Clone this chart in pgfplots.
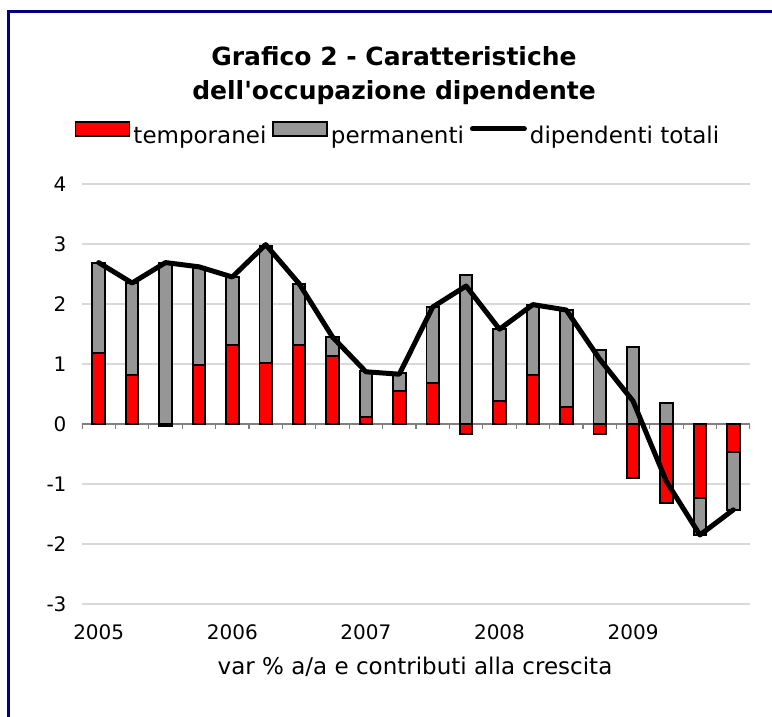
\documentclass[border=0pt]{standalone}
\usepackage{pgfplots}
\pgfplotsset{compat=1.18}
\usepackage{pgfplotstable}
\usepackage{fontspec}
\setmainfont{DejaVu Sans}
\definecolor{barred}{RGB}{255,0,0}
\definecolor{bargray}{RGB}{150,150,150}
\definecolor{gridgray}{RGB}{217,217,217}
\definecolor{axisgray}{RGB}{128,128,128}
\definecolor{framenavy}{RGB}{0,0,128}

% x: quarter index (0 = 2005 Q1); temp: contribution of temporary workers;
% graytop: visible end of the grey (permanent) segment; tot: total employees
\pgfplotstableread{
x  temp   graytop  tot
0   1.18   2.69    2.69
1   0.81   2.35    2.35
2  -0.03   2.69    2.69
3   0.98   2.62    2.62
4   1.32   2.45    2.45
5   1.02   2.97    2.99
6   1.32   2.34    2.34
7   1.14   1.45    1.45
8   0.11   0.88    0.87
9   0.55   0.85    0.83
10  0.68   1.95    1.95
11 -0.16   2.48    2.30
12  0.38   1.58    1.58
13  0.81   1.99    1.99
14  0.28   1.90    1.90
15 -0.16   1.24    1.08
16 -0.90   1.28    0.38
17 -1.31   0.35   -0.96
18 -1.24  -1.85   -1.85
19 -0.47  -1.43   -1.43
}\data

\begin{document}
\begin{tikzpicture}[x=1pt,y=1pt]
\useasboundingbox (0,0) rectangle (772,717);
\draw[framenavy, line width=3pt] (8.5,-5) -- (8.5,705.5) -- (780,705.5);

\node[anchor=base, font=\fontsize{25}{30}\selectfont\bfseries] at (394,651) {Grafico 2 - Caratteristiche};
\node[anchor=base, font=\fontsize{25}{30}\selectfont\bfseries] at (394,617) {dell\textquotesingle occupazione dipendente};
\node[anchor=base, font=\fontsize{23}{27}\selectfont] at (415,42) {var \% a/a e contributi alla crescita};

\begin{axis}[
  at={(82pt,113pt)}, anchor=south west,
  scale only axis, width=668pt, height=420pt,
  xmin=-0.5, xmax=19.5, ymin=-3, ymax=4,
  ytick={-3,-2,-1,0,1,2,3,4},
  yticklabels={-3,-2,-1,0,1,2,3,4},
  xtick={0,4,8,12,16},
  xticklabels={2005,2006,2007,2008,2009},
  major tick length=0pt,
  axis line style={draw=none},
  ymajorgrids,
  grid style={gridgray, line width=1.5pt},
  tick label style={font=\fontsize{20}{24}\selectfont},
  yticklabel style={anchor=east, xshift=-12pt},
  xticklabel style={anchor=base, yshift=-36pt},
  legend columns=3,
  legend style={draw=none, fill=none,
    at={(axis description cs:0.474,1.117)}, anchor=center,
    font=\fontsize{23}{27}\selectfont,
    nodes={inner sep=3pt},
    /tikz/every even column/.append style={column sep=3pt}},
]
\addlegendimage{legend image code/.code={\draw[fill=barred, draw=black, line width=1.5pt] (0pt,0pt) rectangle (54pt,14pt);}}
\addlegendentry{temporanei}
\addlegendimage{legend image code/.code={\draw[fill=bargray, draw=black, line width=1.5pt] (0pt,0pt) rectangle (54pt,14pt);}}
\addlegendentry{permanenti}
\addlegendimage{legend image code/.code={\draw[black, line width=5pt, line cap=round] (3pt,7pt) -- (55pt,7pt);}}
\addlegendentry{dipendenti totali}

\draw[axisgray, line width=1.5pt] (axis cs:-0.5,0) -- (axis cs:19.5,0);
\pgfplotsinvokeforeach{-0.5,0.5,...,19.5}{\draw[axisgray, line width=1.2pt] (axis cs:#1,0) -- ++(0pt,-5pt);}

\addplot[forget plot, ybar, bar shift=0pt, bar width=12.5pt, fill=bargray, draw=black, line width=1.9pt]
  table[x=x, y=graytop] {\data};
\addplot[forget plot, ybar, bar shift=0pt, bar width=12.5pt, fill=barred, draw=black, line width=1.9pt]
  table[x=x, y=temp] {\data};
\addplot[forget plot, sharp plot, black, line width=5pt, line join=round, line cap=round, mark=none]
  table[x=x, y=tot] {\data};
\end{axis}
\end{tikzpicture}
\end{document}
